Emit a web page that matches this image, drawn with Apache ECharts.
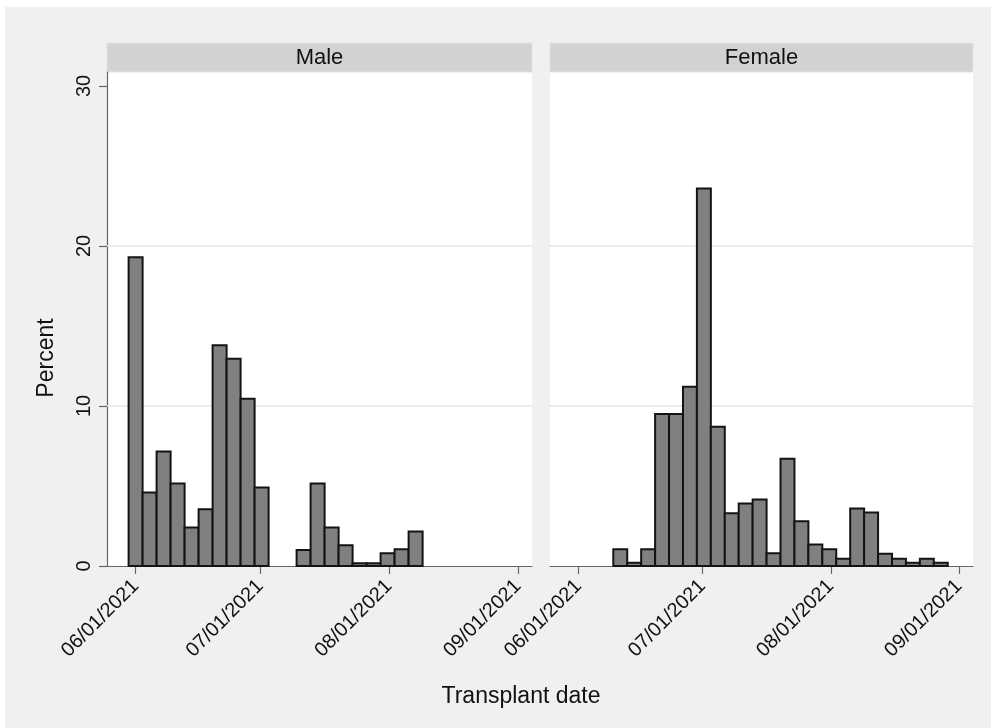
<!DOCTYPE html>
<html>
<head>
<meta charset="utf-8">
<script src="https://cdn.jsdelivr.net/npm/echarts@6/dist/echarts.min.js"></script>
<style>
  html, body { margin: 0; padding: 0; background: #fff; }
  #chart { position: absolute; left: 5px; top: 7px; width: 986px; height: 721px; background: #f0f0f0; }
</style>
</head>
<body>
<div id="chart"></div>
<script>
// histogram bins in days since 06/01/2021
const binStart = -1.7
const binWidth = 3.37

// percent per bin; male starts at bin 0, female at bin 3
const malePct = [19.3, 4.6, 7.15, 5.15, 2.4, 3.55, 13.8, 12.95, 10.45, 4.9,
  0, 0, 1.0, 5.15, 2.4, 1.3, 0.17, 0.17, 0.8, 1.05, 2.15]
const maleFirstBin = 0
const femalePct = [1.05, 0.2, 1.05, 9.5, 9.5, 11.2, 23.6, 8.7, 3.3, 3.9, 4.15, 0.8,
  6.7, 2.8, 1.35, 1.05, 0.45, 3.6, 3.35, 0.77, 0.45, 0.2, 0.45, 0.2]
const femaleFirstBin = 3

const panels = ['Male', 'Female']
const tickDays = [0, 30, 61, 92]
const tickLabels = ['06/01/2021', '07/01/2021', '08/01/2021', '09/01/2021']
const yTicks = [0, 10, 20, 30]
const gridLines = [10, 20]

function toBins(pct, first) {
  const out = []
  pct.forEach((v, i) => {
    if (v <= 0) return
    const s = binStart + (first + i) * binWidth
    out.push([s, s + binWidth, v])
  })
  return out
}

const chart = echarts.init(document.getElementById('chart'))

// offsets: chart div is at (5,7) in the page
const ox = 5, oy = 7
const grids = [
  { left: 107 - ox, width: 425, top: 72 - oy, height: 494 },
  { left: 550 - ox, width: 423, top: 72 - oy, height: 494 }
]

const fontFam = '"Liberation Sans", Arial, sans-serif'

function renderBar(params, api) {
  const p0 = api.coord([api.value(0), api.value(2)])
  const p1 = api.coord([api.value(1), 0])
  return {
    type: 'rect',
    shape: { x: p0[0], y: p0[1], width: p1[0] - p0[0], height: p1[1] - p0[1] },
    style: { fill: '#808080', stroke: '#141414', lineWidth: 2 }
  }
}

const option = {
  animation: false,
  grid: grids.map(g => ({ ...g, show: true, backgroundColor: '#fff', borderWidth: 0 })),
  xAxis: grids.map((g, i) => ({
    type: 'value',
    gridIndex: i,
    min: -6.9,
    max: 95.4,
    axisLine: { onZero: false, lineStyle: { color: '#666', width: 1.2 } },
    axisTick: { customValues: tickDays, length: 8, lineStyle: { color: '#666', width: 1.2 } },
    axisLabel: {
      customValues: tickDays,
      rotate: 45,
      margin: 17,
      fontSize: 20,
      fontFamily: fontFam,
      color: '#111',
      formatter: v => tickLabels[tickDays.indexOf(v)] || ''
    },
    splitLine: { show: false }
  })),
  yAxis: grids.map((g, i) => ({
    type: 'value',
    gridIndex: i,
    min: 0,
    max: 30.875,
    axisLine: { show: i === 0, onZero: false, lineStyle: { color: '#666', width: 1.2 } },
    axisTick: { show: i === 0, customValues: yTicks, length: 8, lineStyle: { color: '#666', width: 1.2 } },
    axisLabel: {
      show: i === 0,
      customValues: yTicks,
      rotate: 90,
      margin: 13,
      fontSize: 20,
      fontFamily: fontFam,
      color: '#111'
    },
    splitLine: { show: false }
  })),
  series: [
    { data: toBins(malePct, maleFirstBin), idx: 0 },
    { data: toBins(femalePct, femaleFirstBin), idx: 1 }
  ].map(s => ({
    type: 'custom',
    name: panels[s.idx],
    xAxisIndex: s.idx,
    yAxisIndex: s.idx,
    z: 3,
    renderItem: renderBar,
    data: s.data,
    markLine: {
      silent: true,
      z: 1,
      symbol: 'none',
      label: { show: false },
      lineStyle: { color: '#e6e6e6', width: 1.5, type: 'solid' },
      data: gridLines.map(v => ({ yAxis: v }))
    }
  })),
  graphic: [
    ...grids.map((g, i) => ({
      type: 'group',
      children: [
        {
          type: 'rect',
          shape: { x: g.left, y: 43 - oy, width: g.width, height: 29 },
          style: { fill: '#d2d2d2', stroke: '#dbe6ea', lineWidth: 1 }
        },
        {
          type: 'text',
          x: g.left + g.width / 2,
          y: 57.5 - oy,
          style: {
            text: panels[i], fontSize: 22, fontFamily: fontFam, fill: '#111',
            align: 'center', verticalAlign: 'middle'
          }
        }
      ]
    })),
    {
      type: 'text',
      x: 47 - ox,
      y: 358 - oy,
      rotation: Math.PI / 2,
      style: {
        text: 'Percent', fontSize: 23, fontFamily: fontFam, fill: '#111',
        align: 'center', verticalAlign: 'middle'
      }
    },
    {
      type: 'text',
      x: 521 - ox,
      y: 697 - oy,
      style: {
        text: 'Transplant date', fontSize: 23, fontFamily: fontFam, fill: '#111',
        align: 'center', verticalAlign: 'middle'
      }
    }
  ]
}

chart.setOption(option)
</script>
</body>
</html>
